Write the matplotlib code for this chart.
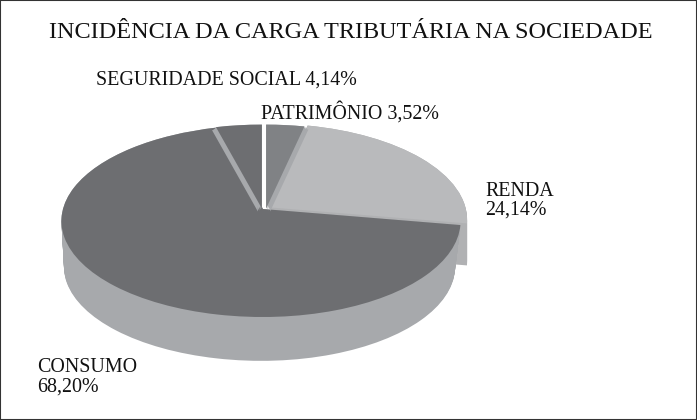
import matplotlib
matplotlib.use("Agg")
import matplotlib.pyplot as plt
from matplotlib.patches import Wedge
from matplotlib.transforms import Transform
import numpy as np

plt.rcParams['font.family'] = ['Liberation Serif', 'DejaVu Serif']

title = "INCIDÊNCIA DA CARGA TRIBUTÁRIA NA SOCIEDADE"
names = ["PATRIMÔNIO", "RENDA", "CONSUMO", "SEGURIDADE SOCIAL"]
shares = [3.52, 24.14, 68.20, 4.14]
top_colors = ["#808285", "#b9babc", "#6d6e71", "#6d6e71"]
side_color = "#a7a9ac"
explode = [0.005, 0.03, 0.0, 0.005]
shift = [3, 2, 0, -1]


# tilted view of the unit pie, nearer edge looks bigger
class Tilt(Transform):
    input_dims = 2
    output_dims = 2

    def __init__(self, dx=0, dy=0, scale=1.0):
        super().__init__()
        self.dx, self.dy, self.scale = dx, dy, scale

    def transform_non_affine(self, xy):
        xy = np.asarray(xy)
        w = 1 + 0.125 * xy[:, 1]
        k = np.where(xy[:, 0] < 0, 200, 196)
        px = 263 + self.dx + k * self.scale * xy[:, 0] / w
        py = 209 + self.dy - 94.5 * self.scale * xy[:, 1] / w
        return np.column_stack([px, py])


fig = plt.figure(figsize=(6.97, 4.2), dpi=100)
ax = fig.add_axes([0, 0, 1, 1])
wedges, _ = ax.pie(shares, explode=explode, startangle=90, counterclock=False,
                   colors=top_colors)
ax.set_aspect("auto")
ax.set_xlim(0, 697)
ax.set_ylim(420, 0)
ax.set_axis_off()


def side(w, color, depth, dx0=0, dx=0, shrink=0.0, z=1):
    # stack of copies going down makes the wall of the slice
    for d in range(0, depth + 1):
        t = d / max(depth, 1)
        c = Wedge(w.center, w.r, w.theta1, w.theta2, color=color, lw=0, zorder=z)
        c.set_transform(Tilt(dx0 + dx * t, d, 1 - shrink * t) + ax.transData)
        ax.add_patch(c)


side(wedges[1], "#b0b1b3", 42, dx0=shift[1], z=1)
side(wedges[2], side_color, 46, dx=-1.5, shrink=0.02, z=2)
side(wedges[0], side_color, 3, dx0=shift[0], dx=4, z=4.5)
side(wedges[3], side_color, 3, dx0=shift[3], dx=-4, z=4.5)

for w, col, s in zip(wedges, top_colors, shift):
    w.set_transform(Tilt(s) + ax.transData)
    w.set_zorder(5)
    w.set_linewidth(0)
    w.set_facecolor(col)
wedges[1].set_zorder(3)
wedges[2].set_zorder(4)

ink = "#111111"
lab = 14.4
ax.text(351, 33, title, ha="center", va="center", fontsize=17.5, color=ink)
ax.text(96, 80, f"{names[3]} {shares[3]:.2f}%".replace(".", ","), va="center", fontsize=lab, color=ink)
ax.text(261, 113, f"{names[0]} {shares[0]:.2f}%".replace(".", ","), va="center", fontsize=lab, color=ink)
ax.text(485, 192, names[1], va="center", fontsize=lab, color=ink)
ax.text(485, 210, f"{shares[1]:.2f}%".replace(".", ","), va="center", fontsize=lab, color=ink)
ax.text(37, 367, names[2], va="center", fontsize=lab, color=ink)
ax.text(37, 387, f"{shares[2]:.2f}%".replace(".", ","), va="center", fontsize=lab, color=ink)

# thin frame round the picture
fig.patches.append(plt.Rectangle((0, 0), 1, 1, transform=fig.transFigure, fill=False,
                                 edgecolor="#333333", lw=1.5))

fig.savefig("out.png", dpi=100)
